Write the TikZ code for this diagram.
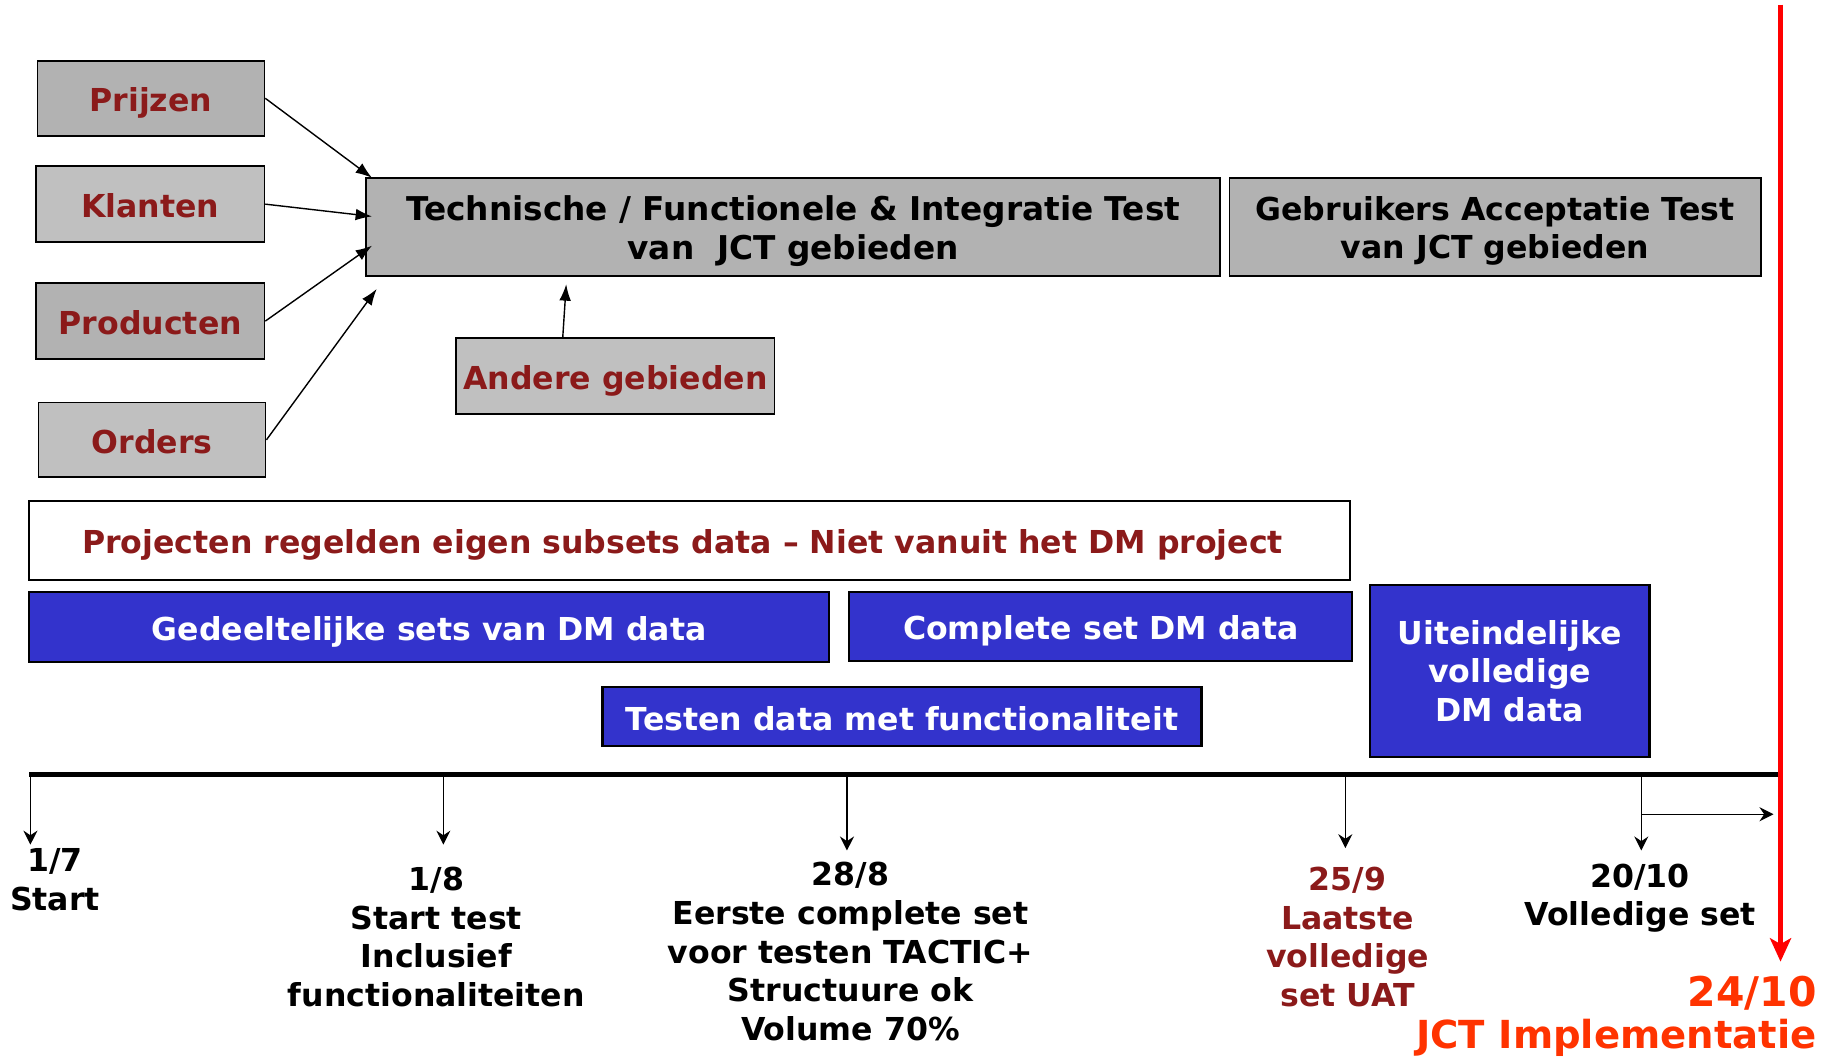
\documentclass[tikz,border=0pt]{standalone}
\usepackage{fontspec}
\setmainfont{DejaVu Sans}
\usetikzlibrary{arrows.meta}
\definecolor{dred}{HTML}{8B1A1A}
\definecolor{gdark}{HTML}{B2B2B2}
\definecolor{glight}{HTML}{C0C0C0}
\definecolor{dmblue}{HTML}{3333CC}
\definecolor{impl}{HTML}{FF3300}
\definecolor{redline}{HTML}{FF0000}
\begin{document}
\begin{tikzpicture}[x=1pt,y=-1pt,
  lbl/.style={font=\fontsize{27}{33}\selectfont\bfseries},
  oneline/.style={text height=23pt, text depth=0pt},
  gbox/.style={draw=black, line width=1.5pt, inner sep=0pt, lbl, text=dred},
  bbox/.style={draw=black, line width=1.8pt, fill=dmblue, inner sep=0pt, lbl, text=white, align=center},
  feed/.style={line width=1.2pt, -{Latex[length=14,width=10]}},
  tickarr/.style={line width=1.2pt, -{Stealth[length=12,width=12,inset=4]}},
  datelbl/.style={lbl, anchor=north, align=center, inner sep=0pt}
]
\useasboundingbox (0,0) rectangle (1566,903);

% left feeder boxes
\node[gbox, oneline, fill=gdark,  minimum width=194, minimum height=64] (pr)   at (129,84)    {Prijzen};
\node[gbox, oneline, fill=glight, minimum width=195, minimum height=65] (kl)   at (128.5,174.5) {Klanten};
\node[gbox, oneline, fill=gdark,  minimum width=195, minimum height=65] (prod) at (128.5,274.5) {Producten};
\node[gbox, oneline, fill=glight, minimum width=194, minimum height=64] (ord)  at (130,376)   {Orders};
\node[gbox, oneline, fill=glight, minimum width=272, minimum height=65] (and)  at (526,321.5) {Andere gebieden};

% test boxes
\node[gbox, fill=gdark, minimum width=730, minimum height=84,
      label={[lbl, font=\fontsize{28}{33}\selectfont\bfseries, text=black, align=center, yshift=-3.5pt]center:{Technische / Functionele \& Integratie Test\\van\ \ JCT gebieden}}] (tech) at (678,194) {};
\node[gbox, fill=gdark, minimum width=454, minimum height=84,
      label={[lbl, text=black, align=center, yshift=-3.5pt]center:{Gebruikers Acceptatie Test\\van JCT gebieden}}] (gat) at (1278,194) {};

% feeder arrows
\coordinate (tpr)  at (318,152);
\coordinate (tkl)  at (318,185);
\coordinate (tpd)  at (318,210);
\coordinate (tor)  at (322,247);
\coordinate (tan)  at (484,243);
\coordinate (san)  at (481,289);
\draw[feed] (pr.east) -- (tpr);
\draw[feed] (kl.east) -- (tkl);
\draw[feed] (prod.east) -- (tpd);
\draw[feed] (ord.east) -- (tor);
\draw[feed] (san) -- (tan);

% projects box
\node[draw=black, line width=2pt, fill=white, inner sep=0pt, lbl, oneline, text=dred,
      minimum width=1129, minimum height=68] (proj) at (589.5,462)
  {\hspace*{-12pt}Projecten regelden eigen subsets data -- Niet vanuit het DM project};

% blue boxes
\node[bbox, oneline, minimum width=684, minimum height=60] (ged)  at (367,536)    {Gedeeltelijke sets van DM data};
\node[bbox, oneline, minimum width=430, minimum height=59] (comp) at (941,535.5)  {Complete set DM data};
\node[bbox, oneline, minimum width=512, minimum height=51] (tst)  at (771,612.5)  {Testen data met functionaliteit};
\node[bbox, minimum width=239, minimum height=147] (uit) at (1290.5,573.5) {Uiteindelijke\\volledige\\DM data};

% timeline
\coordinate (tl0) at (25,662);
\coordinate (tl1) at (1520,662);
\draw[line width=4pt] (tl0) -- (tl1);

\coordinate (a1) at (26,662);   \coordinate (b1) at (26,722);
\coordinate (a2) at (379,662);  \coordinate (b2) at (379,722);
\coordinate (a3) at (724,662);  \coordinate (b3) at (724,727);
\coordinate (a4) at (1150,662); \coordinate (b4) at (1150,725);
\coordinate (a5) at (1403,662); \coordinate (b5) at (1403,727);
\coordinate (h0) at (1403,696); \coordinate (h1) at (1516,696);
\draw[tickarr] (a1) -- (b1);
\draw[tickarr] (a2) -- (b2);
\draw[tickarr] (a3) -- (b3);
\draw[tickarr] (a4) -- (b4);
\draw[tickarr] (a5) -- (b5);
\draw[tickarr] (h0) -- (h1);

% red deadline line
\coordinate (r0) at (1522,4);
\coordinate (r1) at (1522,822);
\draw[redline, line width=5pt, -{Stealth[length=20,width=18,inset=5]}] (r0) -- (r1);

% date labels
\node[datelbl] (d1) at (47,725)   {1/7\\Start};
\node[datelbl] (d2) at (373,741)  {1/8\\Start test\\Inclusief\\functionaliteiten};
\node[datelbl] (d3) at (727,737)  {28/8\\Eerste complete set\\voor testen TACTIC+\\Structuure ok\\Volume 70\%};
\node[datelbl, text=dred] (d4) at (1152,741) {25/9\\Laatste\\volledige\\set UAT};
\node[datelbl] (d5) at (1402,738) {20/10\\Volledige set};
\node[anchor=north east, align=right, inner sep=0pt, text=impl, font=\bfseries] (d6) at (1553,834)
  {{\fontsize{35}{40}\selectfont 24/10}\\[7pt]{\fontsize{33}{40}\selectfont JCT Implementatie}};
\end{tikzpicture}
\end{document}
